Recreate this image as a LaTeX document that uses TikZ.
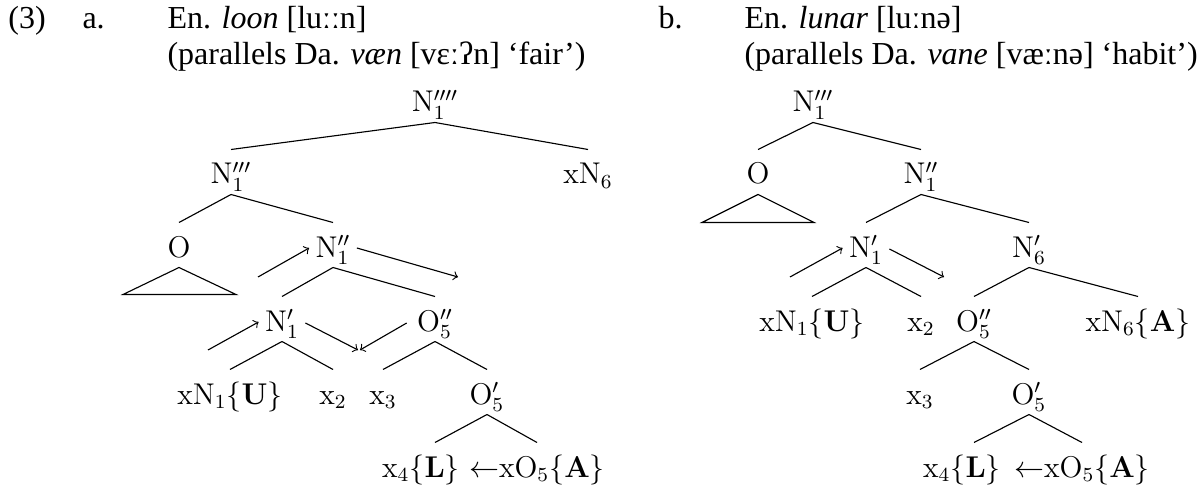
\documentclass[tikz,border=0pt]{standalone}
\usepackage[no-math]{fontspec}
\setmainfont{Liberation Serif}
\begin{document}
\begin{tikzpicture}[x=0.4pt,y=-0.4pt,
  lab/.style={font=\fontsize{12}{14.4}\selectfont, inner sep=0pt, text height=13.6pt, text depth=4pt, anchor=base},
  hd/.style={font=\fontsize{12.8}{15.4}\selectfont, inner sep=0pt, anchor=base west},
  edge/.style={line width=0.45pt},
  mv/.style={->, line width=0.45pt}]
\useasboundingbox (0,0) rectangle (1201,486);
% header
\node[hd] (n3) at (8,29) {(3)};
\node[hd] (na) at (82,29) {a.};
\node[hd] (ha1) at (167,29) {En. \textit{loon} [luːːn]};
\node[hd] (ha2) at (167,65) {(parallels Da. \textit{væn} [vɛːʔn] ‘fair’)};
\node[hd] (nb) at (658,29) {b.};
\node[hd] (hb1) at (744,29) {En. \textit{lunar} [luːnə]};
\node[hd] (hb2) at (744,65) {(parallels Da. \textit{vane} [væːnə] ‘habit’)};
% tree a
\node[lab] (a0) at (435,112) {$\mathrm{N}''''_1$};
\node[lab] (a1) at (231,184) {$\mathrm{N}'''_1$};
\node[lab] (a2) at (588,184) {$\mathrm{xN}_6$};
\node[lab] (a3) at (179,257) {$\mathrm{O}$};
\node[lab] (a4) at (333,257) {$\mathrm{N}''_1$};
\node[lab] (a5) at (282,331) {$\mathrm{N}'_1$};
\node[lab] (a6) at (435,331) {$\mathrm{O}''_5$};
\node[lab] (a7) at (230,404) {$\mathrm{xN}_1\{\mathbf{U}\}$};
\node[lab] (a8) at (333,404) {$\mathrm{x}_2$};
\node[lab] (a9) at (383,404) {$\mathrm{x}_3$};
\node[lab] (a10) at (487,404) {$\mathrm{O}'_5$};
\node[lab] (a11) at (421,477) {$\mathrm{x}_4\{\mathbf{L}\}$};
\node[lab] (a12) at (537,477) {${\leftarrow}\mathrm{xO}_5\{\mathbf{A}\}$};
\draw[edge] (a0.south) -- (a1.north);
\draw[edge] (a0.south) -- (a2.north);
\draw[edge] (a1.south) -- (a3.north);
\draw[edge] (a1.south) -- (a4.north);
\draw[edge] (a3.south) -- ++(-56,27) -- ++(113,0) -- cycle;
\draw[edge] (a4.south) -- (a5.north);
\draw[edge] (a4.south) -- (a6.north);
\draw[edge] (a5.south) -- (a7.north);
\draw[edge] (a5.south) -- (a8.north);
\draw[edge] (a6.south) -- (a9.north);
\draw[edge] (a6.south) -- (a10.north);
\draw[edge] (a10.south) -- ([shift={(14,0)}]a11.north);
\draw[edge] (a10.south) -- (a12.north);
% movement arrows a
\coordinate (ma1) at (258,277);
\coordinate (ma2) at (458,277);
\coordinate (ma3) at (208,350);
\coordinate (ma4) at (358,350);
\coordinate (ma5) at (360,350);
\draw[mv] (ma1) -- ([shift={(-6,3)}]a4.west);
\draw[mv] ([shift={(6,3)}]a4.east) -- (ma2);
\draw[mv] (ma3) -- ([shift={(-6,3)}]a5.west);
\draw[mv] ([shift={(6,4)}]a5.east) -- (ma4);
\draw[mv] ([shift={(-10,4)}]a6.west) -- (ma5);
% tree b
\node[lab] (b0) at (813,112) {$\mathrm{N}'''_1$};
\node[lab] (b1) at (758,184) {$\mathrm{O}$};
\node[lab] (b2) at (921,184) {$\mathrm{N}''_1$};
\node[lab] (b3) at (866,257) {$\mathrm{N}'_1$};
\node[lab] (b4) at (1029,257) {$\mathrm{N}'_6$};
\node[lab] (b5) at (812,331) {$\mathrm{xN}_1\{\mathbf{U}\}$};
\node[lab] (b6) at (921,331) {$\mathrm{x}_2$};
\node[lab] (b7) at (974,331) {$\mathrm{O}''_5$};
\node[lab] (b8) at (1138,331) {$\mathrm{xN}_6\{\mathbf{A}\}$};
\node[lab] (b9) at (920,404) {$\mathrm{x}_3$};
\node[lab] (b10) at (1029,404) {$\mathrm{O}'_5$};
\node[lab] (b11) at (962,477) {$\mathrm{x}_4\{\mathbf{L}\}$};
\node[lab] (b12) at (1082,477) {${\leftarrow}\mathrm{xO}_5\{\mathbf{A}\}$};
\draw[edge] (b0.south) -- (b1.north);
\draw[edge] (b0.south) -- (b2.north);
\draw[edge] (b1.south) -- ++(-56,28) -- ++(112,0) -- cycle;
\draw[edge] (b2.south) -- (b3.north);
\draw[edge] (b2.south) -- (b4.north);
\draw[edge] (b3.south) -- (b5.north);
\draw[edge] (b3.south) -- (b6.north);
\draw[edge] (b4.south) -- (b7.north);
\draw[edge] (b4.south) -- (b8.north);
\draw[edge] (b7.south) -- (b9.north);
\draw[edge] (b7.south) -- (b10.north);
\draw[edge] (b10.south) -- ([shift={(12,0)}]b11.north);
\draw[edge] (b10.south) -- (b12.north);
% movement arrows b
\coordinate (mb1) at (790,277);
\coordinate (mb2) at (944,277);
\draw[mv] (mb1) -- ([shift={(-6,3)}]b3.west);
\draw[mv] ([shift={(6,4)}]b3.east) -- (mb2);
\end{tikzpicture}
\end{document}
